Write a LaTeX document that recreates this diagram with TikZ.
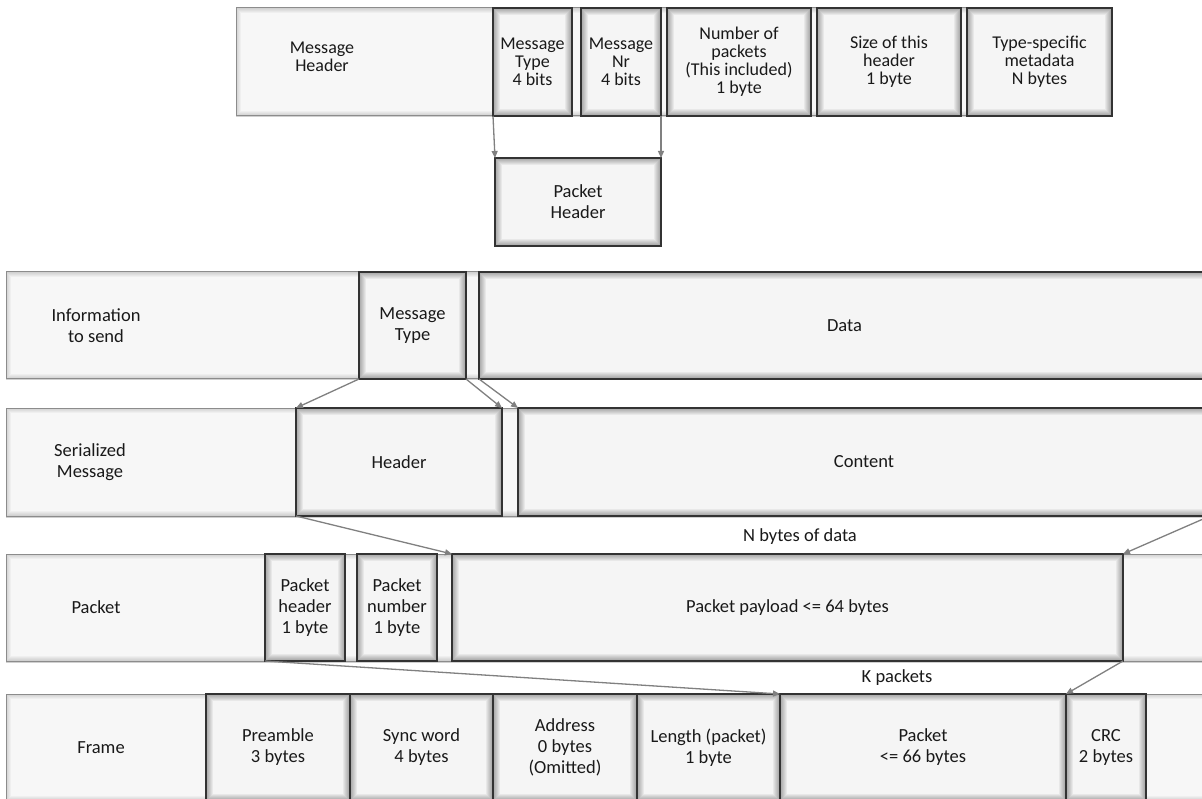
\documentclass[tikz,border=0pt]{standalone}
\usepackage{fontspec}
\setmainfont{Carlito}
\usetikzlibrary{arrows.meta,shadows}
\begin{document}
\begin{tikzpicture}[x=1pt,y=-1pt,
  every node/.style={font=\fontsize{18.5}{21}\selectfont, text=black!90, align=center, inner sep=0pt, outer sep=0pt},
  band/.style={draw=black!45, line width=1pt, fill=black!3,
    drop shadow={shadow xshift=0pt, shadow yshift=-1.5pt, opacity=0.3, fill=black!60},
    path picture={\foreach \w in {2,4,...,10}{\draw[black,opacity=0.03,line width=\w pt] (path picture bounding box.north west) rectangle (path picture bounding box.south east);}}},
  field/.style={draw=black!80, line width=1.4pt, fill=black!4,
    path picture={\foreach \w in {2,4,...,14}{\draw[black,opacity=0.05,line width=\w pt] (path picture bounding box.north west) rectangle (path picture bounding box.south east);}}},
  tight/.style={font=\fontsize{18}{18}\selectfont},
  lbl/.style={},
  conn/.style={draw=black!50, line width=1.3pt, -{Triangle[length=7pt,width=6pt]}}
]
\useasboundingbox (0,0) rectangle (1202,799);
\clip (0,0) rectangle (1202,799);
\fill[white] (0,0) rectangle (1202,799);

% Row 1: message header
\node[band, minimum width=876pt, minimum height=108pt] (band1) at (674,62) {};
\node[field, tight, minimum width=79pt, minimum height=108pt] (mt1) at (532.5,62) {Message\\Type\\4 bits};
\node[field, tight, minimum width=80pt, minimum height=108pt] (mnr) at (621,62) {Message\\Nr\\4 bits};
\node[field, tight, minimum width=144pt, minimum height=108pt] (npk) at (739,62) {Number of\\packets\\(This included)\\1 byte};
\node[field, tight, minimum width=144pt, minimum height=108pt] (hsz) at (889,62) {Size of this\\header\\1 byte};
\node[field, tight, minimum width=145pt, minimum height=108pt] (tsm) at (1039.5,62) {Type-specific\\metadata\\N bytes};
\node[lbl, tight] (l1) at (322,57) {Message\\Header};

% Packet header
\node[field, minimum width=166pt, minimum height=88pt] (phd) at (578,202) {Packet\\Header};

% Row 2: information to send
\node[band, minimum width=1204pt, minimum height=107pt] (band2) at (608,325.5) {};
\node[field, minimum width=107pt, minimum height=107pt] (mt2) at (412.5,325.5) {Message\\Type};
\node[field, minimum width=731pt, minimum height=107pt] (data) at (844.5,325.5) {Data};
\node[lbl] (l2) at (96,325.5) {Information\\to send};

% Row 3: serialized message
\node[band, minimum width=1204pt, minimum height=108pt] (band3) at (608,462) {};
\node[field, minimum width=206pt, minimum height=108pt] (hdr) at (399,462) {Header};
\node[field, minimum width=692pt, minimum height=108pt] (cont) at (864,462) {Content};
\node[lbl] (l3) at (90,462) {Serialized\\Message};

% Row 4: packet
\node[band, minimum width=1204pt, minimum height=107pt] (band4) at (608,607.5) {};
\node[field, minimum width=80pt, minimum height=107pt] (pkh) at (305,607.5) {Packet\\header\\1 byte};
\node[field, minimum width=80pt, minimum height=107pt] (pkn) at (397,607.5) {Packet\\number\\1 byte};
\node[field, minimum width=671pt, minimum height=107pt] (pay) at (787.5,607.5) {Packet payload <= 64 bytes};
\node[lbl] (l4) at (96,607.5) {Packet};

% Row 5: frame
\node[band, minimum width=1204pt, minimum height=107pt] (band5) at (608,747.5) {};
\node[field, minimum width=144pt, minimum height=107pt] (pre) at (278,747.5) {Preamble\\3 bytes};
\node[field, minimum width=143pt, minimum height=107pt] (syn) at (421.5,747.5) {Sync word\\4 bytes};
\node[field, minimum width=144pt, minimum height=107pt] (adr) at (565,747.5) {Address\\0 bytes\\(Omitted)};
\node[field, minimum width=143pt, minimum height=107pt] (len) at (708.5,747.5) {Length (packet)\\1 byte};
\node[field, minimum width=286pt, minimum height=107pt] (fpk) at (923,747.5) {Packet\\<= 66 bytes};
\node[field, minimum width=80pt, minimum height=107pt] (crc) at (1106,747.5) {CRC\\2 bytes};
\node[lbl] (l5) at (101,747.5) {Frame};

% Annotations
\node[lbl] (nby) at (800,537) {N bytes of data};
\node[lbl] (kpk) at (897,678) {K packets};

% Connectors
\draw[conn] (mt1.south west) -- (phd.north west);
\draw[conn] (mnr.south east) -- (phd.north east);
\draw[conn] (mt2.south west) -- (hdr.north west);
\draw[conn] (mt2.south east) -- (hdr.north east);
\draw[conn] (data.south west) -- (cont.north west);
\draw[conn] (hdr.south west) -- (pay.north west);
\draw[conn] (cont.south east) -- (pay.north east);
\draw[conn] (pkh.south west) -- (fpk.north west);
\draw[conn] (pay.south east) -- (crc.north west);
\end{tikzpicture}
\end{document}
